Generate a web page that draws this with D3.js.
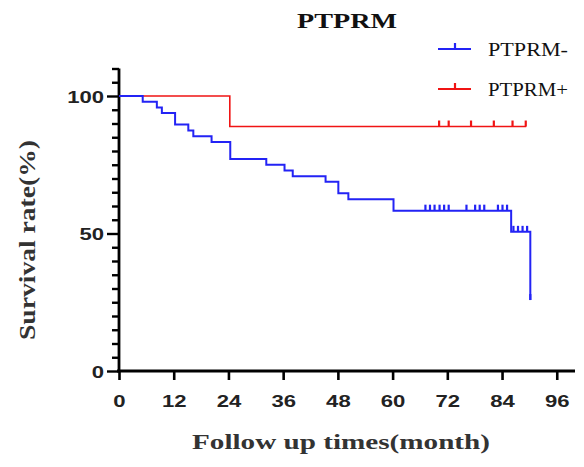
<!DOCTYPE html>
<html><head><meta charset="utf-8">
<script src="https://cdn.jsdelivr.net/npm/d3@7"></script>
<style>
html,body{margin:0;padding:0;background:#fff;}
svg{display:block;}
</style></head>
<body>
<svg id="chart" width="584" height="467"></svg>
<script>
// ---- data ----
const xTicks = [0, 12, 24, 36, 48, 60, 72, 84, 96];
const yMajorTicks = [0, 50, 100];
const seriesNames = ["PTPRM-", "PTPRM+"];
// PTPRM- (blue): event times (months) and survival (%) after each event
const negTimes = [5.2, 8.3, 9.4, 12.3, 15.2, 16.3, 20.3, 24.4, 32.3, 36.3, 38.1, 45.3, 48.1, 50.3, 60.2, 86.0, 90.2];
const negSurv  = [97.9, 95.8, 93.8, 89.6, 87.5, 85.4, 83.3, 77.1, 75.0, 72.9, 70.8, 68.8, 64.6, 62.5, 58.3, 50.6, 25.8];
const negCensor = [67.2, 68.2, 69.2, 70.3, 71.3, 72.3, 76.2, 78.1, 79.1, 80.1, 83.1, 84.1, 85.1, 86.5, 87.5, 88.5, 89.5, 90.2];
const negEnd = 90.2;
// PTPRM+ (red)
const posTimes = [24.3];
const posSurv  = [88.9];
const posCensor = [70.2, 72.3, 77.2, 82.2, 86.3, 89.2];
const posEnd = 89.3;

const colors = ["#2323f5", "#f01414"];
const SX = 1.3; // horizontal stretch of the original image's text

const svg = d3.select("#chart");
const x = d3.scaleLinear().domain([0, 100]).range([119, 575]);
const y = d3.scaleLinear().domain([0, 110]).range([371, 68.5]);

function survAt(times, surv, t) {
  let s = 100;
  for (let i = 0; i < times.length; i++) if (times[i] <= t) s = surv[i];
  return s;
}

// ---- axes ----
const xAxis = svg.append("g").attr("transform", `translate(0,${y(0)})`)
  .call(d3.axisBottom(x).tickValues(xTicks).tickSize(9).tickSizeOuter(0));
xAxis.select(".domain").attr("stroke", "#000").attr("stroke-width", 2.8).attr("d", `M${x(0)-2},0H${x(100)}`);
xAxis.selectAll(".tick line").attr("stroke", "#000").attr("stroke-width", 2.6);
xAxis.selectAll(".tick text")
  .attr("font-family", "Liberation Sans, Arial, sans-serif").attr("font-weight", "bold")
  .attr("font-size", 17).attr("fill", "#222")
  .attr("y", 0).attr("dy", 0)
  .attr("transform", `translate(0,36) scale(${SX},1)`);

const yAxis = svg.append("g").attr("transform", `translate(${x(0)},0)`)
  .call(d3.axisLeft(y).tickValues(d3.range(0, 111, 5)).tickSizeOuter(0)
    .tickSize(6).tickFormat(d => yMajorTicks.includes(d) ? d : ""));
yAxis.select(".domain").attr("stroke", "#000").attr("stroke-width", 2.8).attr("d", `M0,${y(110)}V${y(0)+1}`);
yAxis.selectAll(".tick line").attr("stroke", "#000").attr("stroke-width", 2.4)
  .attr("x2", d => yMajorTicks.includes(d) ? -12 : -7);
yAxis.selectAll(".tick text")
  .attr("font-family", "Liberation Sans, Arial, sans-serif").attr("font-weight", "bold")
  .attr("font-size", 17).attr("fill", "#222")
  .attr("x", 0).attr("dy", "0.36em")
  .attr("transform", `translate(-15,0) scale(${SX},1)`);

// ---- curves ----
const line = d3.line().x(d => x(d[0])).y(d => y(d[1])).curve(d3.curveStepAfter);
function drawSeries(times, surv, censor, end, color, w) {
  const pts = [[0, 100]];
  times.forEach((t, i) => pts.push([t, surv[i]]));
  pts.push([end, surv[surv.length - 1]]);
  svg.append("path").datum(pts).attr("d", line)
    .attr("fill", "none").attr("stroke", color).attr("stroke-width", w);
  svg.append("g").selectAll("line").data(censor).join("line")
    .attr("x1", d => x(d)).attr("x2", d => x(d))
    .attr("y1", d => y(survAt(times, surv, d)))
    .attr("y2", d => y(survAt(times, surv, d)) - 6)
    .attr("stroke", color).attr("stroke-width", 2.2);
}
drawSeries(posTimes, posSurv, posCensor, posEnd, colors[1], 1.6);
drawSeries(negTimes, negSurv, negCensor, negEnd, colors[0], 2);

// ---- legend ----
const legY = [49, 89];
seriesNames.forEach((name, i) => {
  const g = svg.append("g");
  g.append("line").attr("x1", 438).attr("x2", 471).attr("y1", legY[i]).attr("y2", legY[i])
    .attr("stroke", colors[i]).attr("stroke-width", 2);
  g.append("line").attr("x1", 455).attr("x2", 455).attr("y1", legY[i]).attr("y2", legY[i] - 6)
    .attr("stroke", colors[i]).attr("stroke-width", 2.2);
  g.append("text").text(name)
    .attr("transform", `translate(488,${legY[i] + 7})`)
    .attr("textLength", 80).attr("lengthAdjust", "spacingAndGlyphs")
    .attr("font-family", "Liberation Serif, Times New Roman, serif")
    .attr("font-size", 19).attr("fill", "#111");
});

// ---- titles ----
svg.append("text").text("PTPRM")
  .attr("transform", `translate(347,28)`)
  .attr("text-anchor", "middle")
  .attr("textLength", 100).attr("lengthAdjust", "spacingAndGlyphs")
  .attr("font-family", "Liberation Serif, Times New Roman, serif")
  .attr("font-weight", "bold").attr("font-size", 22).attr("fill", "#111");

svg.append("text").text("Follow up times(month)")
  .attr("transform", `translate(341,449)`)
  .attr("text-anchor", "middle")
  .attr("textLength", 298).attr("lengthAdjust", "spacingAndGlyphs")
  .attr("font-family", "Liberation Serif, Times New Roman, serif")
  .attr("font-weight", "bold").attr("font-size", 22).attr("fill", "#333");

svg.append("text").text("Survival rate(%)")
  .attr("transform", `translate(35,240) rotate(-90)`)
  .attr("text-anchor", "middle")
  .attr("textLength", 200).attr("lengthAdjust", "spacingAndGlyphs")
  .attr("font-family", "Liberation Serif, Times New Roman, serif")
  .attr("font-weight", "bold").attr("font-size", 24).attr("fill", "#333");
</script>
</body></html>
